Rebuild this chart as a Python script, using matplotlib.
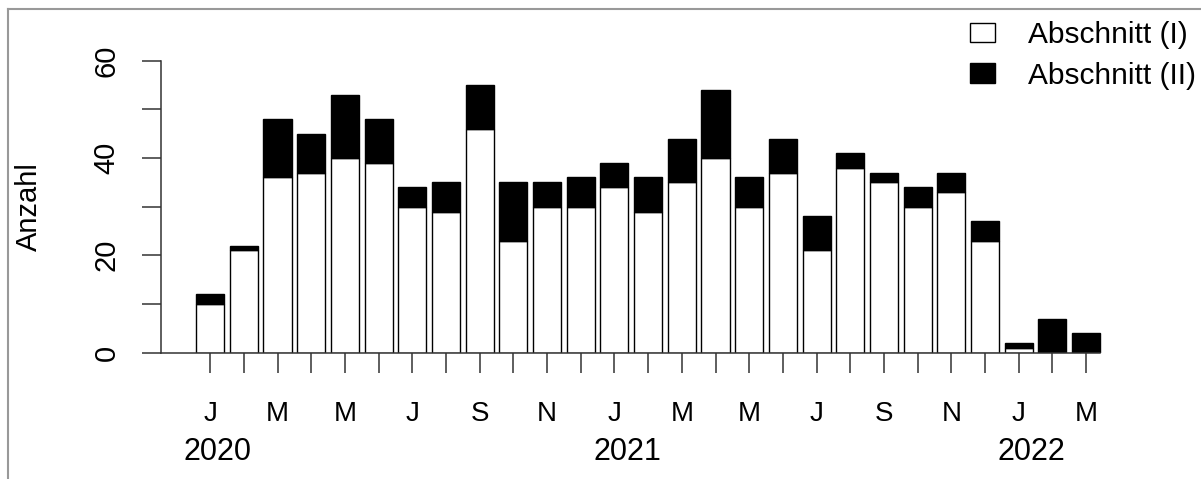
import matplotlib
matplotlib.use("Agg")
import matplotlib.pyplot as plt
import matplotlib.transforms as mtransforms
from matplotlib.lines import Line2D
from matplotlib.patches import Patch
import numpy as np

plt.rcParams["font.family"] = ["Liberation Sans", "DejaVu Sans"]

# monthly counts, Jan 2020 .. Mar 2022
month_letters = ["J", "F", "M", "A", "M", "J", "J", "A", "S", "O", "N", "D"]
abschnitt_1 = [10, 21, 36, 37, 40, 39, 30, 29, 46, 23, 30, 30,
               34, 29, 35, 40, 30, 37, 21, 38, 35, 30, 33, 23,
               1, 0, 0]
abschnitt_2 = [2, 1, 12, 8, 13, 9, 4, 6, 9, 12, 5, 6,
               5, 7, 9, 14, 6, 7, 7, 3, 2, 4, 4, 4,
               1, 7, 4]
years = ["2020", "2021", "2022"]
year_start = [0, 12, 24]  # index of January in each year

W, H = 1201, 479
fig = plt.figure(figsize=(W / 100, H / 100), dpi=100)
# axes placed in pixel terms (R barplot look)
x0, x1, ytop, ybot = 161, 1136.4, 60.7, 352.6
ax = fig.add_axes([x0 / W, 1 - ybot / H, (x1 - x0) / W, (ybot - ytop) / H])

n = len(abschnitt_1)
pos = 0.7 + 1.2 * np.arange(n)
lower = np.array(abschnitt_1)
upper = np.array(abschnitt_2)

ax.bar(pos, lower, width=1, color="white", edgecolor="black", linewidth=1.0)
ax.bar(pos, upper, bottom=lower, width=1, color="black", edgecolor="black", linewidth=1.0)

ax.set_xlim(-1.05, 33.69)
ax.set_ylim(0, 60)

for s in ["top", "right", "bottom"]:
    ax.spines[s].set_visible(False)
ax.spines["left"].set_color("#333333")
ax.spines["left"].set_linewidth(1.1)
# baseline
ax.plot([-1.05, pos[-1] + 0.5], [0, 0], color="#333333", lw=1.1, clip_on=False)

# y axis
ax.set_yticks(np.arange(0, 61, 10))
ax.set_yticklabels(["0", "", "20", "", "40", "", "60"], rotation=90, va="center")
ax.tick_params(axis="y", length=14, width=1.1, color="#333333", pad=15, labelsize=21)

# x axis: tick every month, letter every second month
ax.set_xticks(pos)
labels = [month_letters[i % 12] if i % 2 == 0 else "" for i in range(n)]
ax.set_xticklabels(labels)
ax.tick_params(axis="x", length=14.5, width=1.1, color="#333333", pad=20, labelsize=20)

trans = mtransforms.blended_transform_factory(ax.transData, fig.transFigure)
year_shift = [0.28, 0.45, 0.45]
for yr, i, dx in zip(years, year_start, year_shift):
    ax.text(pos[i] + dx, 1 - 452 / H, yr, transform=trans, ha="center", va="center", fontsize=22)

ax.set_ylabel("Anzahl", fontsize=21)
ax.yaxis.set_label_coords(-(161 - 43) / (x1 - x0), 0.5)

handles = [Patch(facecolor="white", edgecolor="black", linewidth=1.0),
           Patch(facecolor="black", edgecolor="black", linewidth=1.0)]
fig.legend(handles, ["Abschnitt (I)", "Abschnitt (II)"], loc="upper left",
           bbox_to_anchor=(970 / W, 1 - 21 / H), bbox_transform=fig.transFigure,
           frameon=False, fontsize=21.5, borderpad=0, borderaxespad=0,
           handlelength=0.84, handleheight=0.64, handletextpad=1.1, labelspacing=0.42)

# gray outer frame (top and left)
fig.add_artist(Line2D([8 / W, 8 / W], [0, 1 - 9 / H], color="#999999", lw=1.5, transform=fig.transFigure))
fig.add_artist(Line2D([8 / W, 1], [1 - 9 / H, 1 - 9 / H], color="#999999", lw=1.5, transform=fig.transFigure))

fig.savefig("out.png", dpi=100)
